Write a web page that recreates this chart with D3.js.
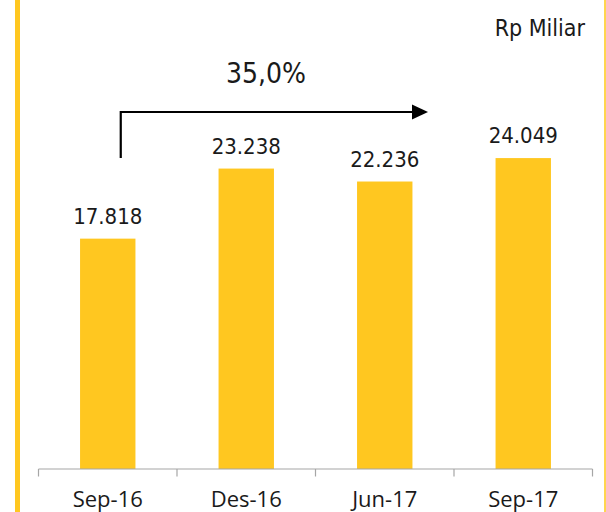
<!DOCTYPE html>
<html>
<head>
<meta charset="utf-8">
<script src="https://cdn.jsdelivr.net/npm/d3@7"></script>
<style>
  html, body { margin: 0; padding: 0; background: #ffffff; }
  svg { display: block; }
  .cond { font-family: "DejaVu Sans Condensed", "DejaVu Sans", sans-serif; font-stretch: condensed; }
</style>
</head>
<body>
<svg id="chart" width="606" height="512"></svg>
<script>
const categories = ["Sep-16", "Des-16", "Jun-17", "Sep-17"];
const values = [17.818, 23.238, 22.236, 24.049];
const valueLabels = ["17.818", "23.238", "22.236", "24.049"];
const unitLabel = "Rp Miliar";
const growthLabel = "35,0%";

const W = 606, H = 512;
const svg = d3.select("#chart");
const yellow = "#FFC720";

// side borders
svg.append("rect").attr("x", 15).attr("y", 0).attr("width", 5).attr("height", H).attr("fill", yellow);
svg.append("rect").attr("x", 604).attr("y", 0).attr("width", 2).attr("height", H).attr("fill", "#FFD54F");

const x = d3.scaleBand().domain(categories).range([38.5, 592.5]).padding(0);
const y = d3.scaleLinear().domain([0, 28]).range([469, 107]);

const barW = x.bandwidth() * 0.4;

svg.append("g").selectAll("rect").data(categories).join("rect")
  .attr("x", d => x(d) + (x.bandwidth() - barW) / 2)
  .attr("y", (d, i) => y(values[i]))
  .attr("width", barW)
  .attr("height", (d, i) => y(0) - y(values[i]))
  .attr("fill", yellow);

// value labels
svg.append("g").selectAll("text").data(categories).join("text")
  .attr("class", "cond")
  .attr("x", d => x(d) + x.bandwidth() / 2)
  .attr("y", (d, i) => y(values[i]) - 15)
  .attr("text-anchor", "middle")
  .attr("font-size", 22)
  .attr("fill", "#1a1a1a")
  .text((d, i) => valueLabels[i]);

// x axis
const axisG = svg.append("g").attr("transform", `translate(0,${y(0)})`);
axisG.append("line").attr("x1", x.range()[0]).attr("x2", x.range()[1]).attr("y1", 0).attr("y2", 0)
  .attr("stroke", "#A6A6A6").attr("stroke-width", 1.2);
const tickPos = categories.map(c => x(c)).concat([x.range()[1]]);
axisG.selectAll("line.tick").data(tickPos).join("line").attr("class", "tick")
  .attr("x1", d => d).attr("x2", d => d).attr("y1", 0).attr("y2", 7.5)
  .attr("stroke", "#A6A6A6").attr("stroke-width", 1.2);
axisG.selectAll("text").data(categories).join("text")
  .attr("x", d => x(d) + x.bandwidth() / 2)
  .attr("y", 38)
  .attr("text-anchor", "middle")
  .attr("font-family", "'Open Sans', 'Noto Sans', sans-serif")
  .attr("font-size", 22)
  .attr("fill", "#1a1a1a")
  .text(d => d);

// unit label
svg.append("text").attr("class", "cond")
  .attr("x", 585).attr("y", 36)
  .attr("text-anchor", "end")
  .attr("font-size", 23)
  .attr("fill", "#1a1a1a")
  .text(unitLabel);

// growth arrow
const ax0 = x(categories[0]) + x.bandwidth() / 2 + 13;
const ayTop = 112, ayBot = 158;
const axEnd = 412;
svg.append("path")
  .attr("d", `M${ax0},${ayBot} L${ax0},${ayTop} L${axEnd},${ayTop}`)
  .attr("fill", "none").attr("stroke", "#000").attr("stroke-width", 2.2);
svg.append("path")
  .attr("d", `M${axEnd},${ayTop - 7.5} L${axEnd + 16},${ayTop} L${axEnd},${ayTop + 7.5} Z`)
  .attr("fill", "#000");

svg.append("text").attr("class", "cond")
  .attr("x", 266).attr("y", 83)
  .attr("text-anchor", "middle")
  .attr("font-size", 28)
  .attr("fill", "#1a1a1a")
  .text(growthLabel);
</script>
</body>
</html>
